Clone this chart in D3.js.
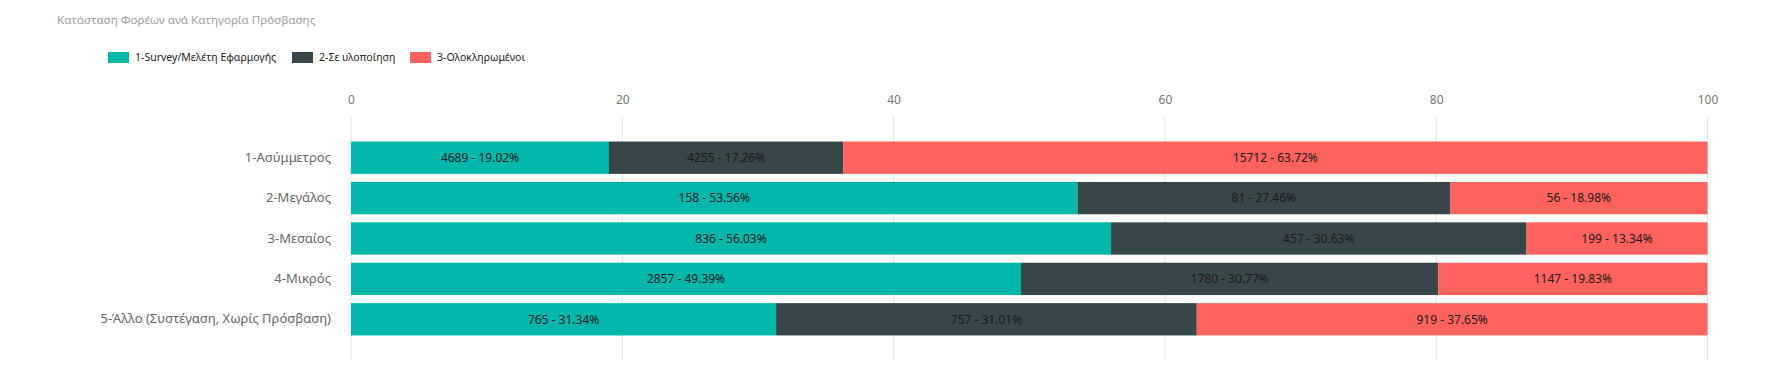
<!DOCTYPE html>
<html>
<head>
<meta charset="utf-8">
<script src="https://cdn.jsdelivr.net/npm/d3@7"></script>
<style>
  body { margin: 0; background: #fff; }
  svg text { font-family: "Noto Sans", "Open Sans", sans-serif; }
</style>
</head>
<body>
<script>
// chart data
const categories = ["1-Ασύμμετρος", "2-Μεγάλος", "3-Μεσαίος", "4-Μικρός", "5-Άλλο (Συστέγαση, Χωρίς Πρόσβαση)"];
const seriesNames = ["1-Survey/Μελέτη Εφαρμογής", "2-Σε υλοποίηση", "3-Ολοκληρωμένοι"];
const surveyCounts = [4689, 158, 836, 2857, 765];
const surveyPct = [19.02, 53.56, 56.03, 49.39, 31.34];
const buildCounts = [4255, 81, 457, 1780, 757];
const buildPct = [17.26, 27.46, 30.63, 30.77, 31.01];
const doneCounts = [15712, 56, 199, 1147, 919];
const donePct = [63.72, 18.98, 13.34, 19.83, 37.65];
const xTicks = [0, 20, 40, 60, 80, 100];
const colors = ["#01B8AA", "#374649", "#FD625E"];

const width = 1781, height = 384;

let svg = d3.select("body").append("svg")
    .attr("width", width)
    .attr("height", height);

// title
svg.append("text")
    .attr("x", 57)
    .attr("y", 24)
    .attr("fill", "#a0a0a0")
    .style("font-size", "11.6px")
    .text("Κατάσταση Φορέων ανά Κατηγορία Πρόσβασης");

// legend
let legendX = [108, 292, 410];
let legend = svg.append("g");
seriesNames.forEach((name, i) => {
  legend.append("rect")
      .attr("x", legendX[i])
      .attr("y", 52)
      .attr("width", 21)
      .attr("height", 11)
      .attr("fill", colors[i]);
  legend.append("text")
      .attr("x", legendX[i] + 27)
      .attr("y", 61)
      .attr("fill", "#252423")
      .style("font-size", "10.5px")
      .text(name);
});

// scales
let x = d3.scaleLinear().domain([0, 100]).range([351, 1707.5]);
let y = d3.scaleBand().domain(categories).range([137.5, 339.5]).paddingInner(0.2).paddingOuter(0.1);

// grid + axis labels
let axis = d3.axisTop(x).tickValues(xTicks).tickSize(0).tickPadding(0);
let axisG = svg.append("g")
    .attr("transform", "translate(0,104)")
    .call(axis);
axisG.select(".domain").remove();
axisG.selectAll("text")
    .attr("fill", "#777")
    .style("font-size", "12px")
    .style("font-family", "'Noto Sans', sans-serif");

svg.append("g").selectAll("line")
  .data(xTicks)
  .join("line")
    .attr("x1", d => x(d)).attr("x2", d => x(d))
    .attr("y1", 117).attr("y2", 360)
    .attr("stroke", "#e3e3e3")
    .attr("stroke-width", 1);

// category labels
let yAxis = d3.axisLeft(y).tickSize(0).tickPadding(0);
let yG = svg.append("g")
    .attr("transform", "translate(331,0)")
    .call(yAxis);
yG.select(".domain").remove();
yG.selectAll("text")
    .attr("fill", "#666")
    .style("font-size", "13px")
    .style("font-family", "'Noto Sans', sans-serif");

// stacked bars
let rows = categories.map((c, i) => ({
  cat: c,
  s0: surveyPct[i], s1: buildPct[i], s2: donePct[i],
  c0: surveyCounts[i], c1: buildCounts[i], c2: doneCounts[i]
}));
let stack = d3.stack().keys(["s0", "s1", "s2"]);
let layers = stack(rows);

layers.forEach((layer, li) => {
  let g = svg.append("g");
  g.selectAll("rect")
    .data(layer)
    .join("rect")
      .attr("x", d => x(d[0]))
      .attr("y", d => y(d.data.cat))
      .attr("width", d => x(Math.min(d[1], 100)) - x(d[0]))
      .attr("height", y.bandwidth())
      .attr("fill", colors[li]);
  g.selectAll("text")
    .data(layer)
    .join("text")
      .attr("x", d => (x(d[0]) + x(Math.min(d[1], 100))) / 2)
      .attr("y", d => y(d.data.cat) + y.bandwidth() / 2)
      .attr("dy", "0.35em")
      .attr("text-anchor", "middle")
      .attr("fill", "#1a1a1a")
      .style("font-size", "12px")
      .text(d => d.data["c" + li] + " - " + d.data["s" + li].toFixed(2) + "%");
});
</script>
</body>
</html>
